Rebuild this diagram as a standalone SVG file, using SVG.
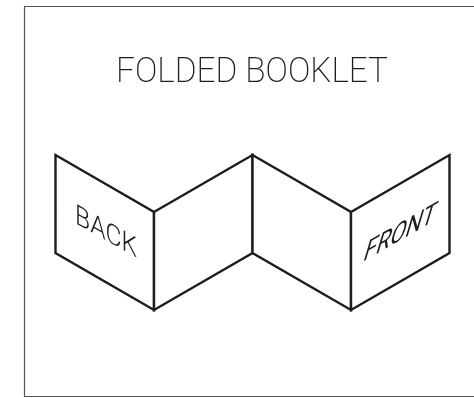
<svg xmlns="http://www.w3.org/2000/svg" width="474" height="398" viewBox="0 0 474 398">
<defs><filter id="g" x="-0.1" y="-0.1" width="1.2" height="1.2"><feOffset dx="0" dy="0"/></filter></defs>
<style>
.p{fill:#fff;stroke:#1d1d1b;stroke-width:2.4;stroke-linejoin:miter}
.t{font-family:Roboto,"Liberation Sans",sans-serif;font-weight:400;fill:#1d1d1b}
.f{fill:none;stroke:#555;stroke-width:1.2}
</style>
<rect width="474" height="398" fill="#fff"/>
<path class="f" d="M474 6.5H24.5V396.5H474"/>
<g filter="url(#g)"><text class="t" x="116" y="82" font-size="35" style="font-weight:200" textLength="272" lengthAdjust="spacingAndGlyphs" id="title">FOLDED BOOKLET</text></g>
<g id="panel-back"><polygon class="p" points="55.5,155 154,212 154,310 55.5,253"/>
<g filter="url(#g)"><text class="t" font-size="28" style="font-weight:300" textLength="62" lengthAdjust="spacingAndGlyphs" transform="matrix(1,0.56,0,1,75,223)">BACK</text></g></g>
<g id="panel-2"><polygon class="p" points="154,212 252.5,155 252.5,253 154,310"/></g>
<g id="panel-3"><polygon class="p" points="252.5,155 351,212 351,310 252.5,253"/></g>
<g id="panel-front"><polygon class="p" points="351,212 449.5,155 449.5,253 351,310"/>
<g filter="url(#g)"><text class="t" font-size="30" textLength="71" lengthAdjust="spacingAndGlyphs" transform="matrix(1,-0.57,-0.3,1,362,262)">FRONT</text></g></g>
</svg>
